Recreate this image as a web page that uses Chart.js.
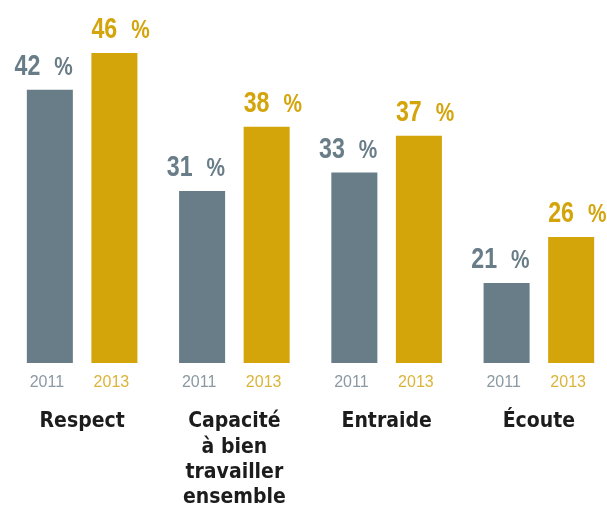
<!DOCTYPE html>
<html lang="fr">
<head>
  <meta charset="utf-8">
  <title>Respect, capacité, entraide, écoute</title>
  <style>
    * { box-sizing:border-box; margin:0; padding:0 }
    html, body { background:#fff; overflow:hidden; }
    #wrap { width:617px; height:506px; }
  </style>
</head>
<body>
  <div id="wrap"><canvas id="chart"></canvas></div>

  <script src="https://cdn.jsdelivr.net/npm/chart.js@4.4.1/dist/chart.umd.min.js"></script>
  <script>
    // data
    const categories = ['Respect', ['Capacité', 'à bien', 'travailler', 'ensemble'], 'Entraide', 'Écoute'];
    const years      = ['2011', '2013'];
    const values2011 = [42, 31, 33, 21];
    const values2013 = [46, 38, 37, 26];

    const GREY = '#697d88';
    const GOLD = '#d4a40b';
    const yearColors = ['#8a99a2', '#dcb43a'];
    const SQUEEZE = 0.8; // condensed look for the value labels

    // value labels above bars, year under each bar, category names below
    const barText = {
      id: 'barText',
      afterDatasetsDraw(chart) {
        const ctx = chart.ctx;
        const bottom = chart.chartArea.bottom;
        chart.data.datasets.forEach((ds, di) => {
          const meta = chart.getDatasetMeta(di);
          meta.data.forEach((bar, i) => {
            const num = String(ds.data[i]);
            const numFont = 'bold 29px "Liberation Sans", Arial, sans-serif';
            const pctFont = 'bold 26px "Liberation Sans", Arial, sans-serif';
            ctx.save();
            ctx.fillStyle = ds.backgroundColor;
            ctx.textBaseline = 'alphabetic';
            ctx.textAlign = 'left';
            ctx.font = numFont;
            const wNum = ctx.measureText(num).width * SQUEEZE;
            ctx.font = pctFont;
            const wPct = ctx.measureText('%').width * SQUEEZE;
            const gap = 14;
            const total = wNum + gap + wPct;
            const left = di === 0 ? bar.x + bar.width / 2 - total : bar.x - bar.width / 2;
            const y = bar.y - 15;

            ctx.save();
            ctx.translate(left, y);
            ctx.scale(SQUEEZE, 1);
            ctx.font = numFont;
            ctx.fillText(num, 0, 0);
            ctx.font = pctFont;
            ctx.fillText('%', (wNum + gap) / SQUEEZE, 0);
            ctx.restore();

            ctx.font = '16px "Liberation Sans", sans-serif';
            ctx.fillStyle = yearColors[di];
            ctx.textAlign = 'center';
            ctx.textBaseline = 'middle';
            ctx.fillText(years[di], bar.x - 3, bottom + 20);
            ctx.restore();
          });
        });

        // category names
        const xScale = chart.scales.x;
        ctx.save();
        ctx.font = 'bold 21px "DejaVu Sans Condensed", "DejaVu Sans", sans-serif';
        ctx.fillStyle = '#1c1c1c';
        ctx.textAlign = 'center';
        ctx.textBaseline = 'middle';
        chart.data.labels.forEach((lab, i) => {
          const lines = Array.isArray(lab) ? lab : [lab];
          const x = xScale.getPixelForValue(i);
          lines.forEach((ln, k) => ctx.fillText(ln, x, bottom + 59 + k * 25.3));
        });
        ctx.restore();
      }
    };

    new Chart(document.getElementById('chart'), {
      type: 'bar',
      data: {
        labels: categories,
        datasets: [
          { label: years[0], data: values2011, backgroundColor: GREY },
          { label: years[1], data: values2013, backgroundColor: GOLD }
        ]
      },
      options: {
        responsive: true,
        maintainAspectRatio: false,
        animation: false,
        layout: { padding: { left: 6, right: 2, top: 8, bottom: 143 } },
        categoryPercentage: 0.848,
        barPercentage: 0.713,
        plugins: { legend: { display: false }, tooltip: { enabled: false } },
        scales: {
          x: {
            grid: { display: false, drawTicks: false },
            border: { display: false },
            ticks: { display: false }
          },
          y: { display: false, min: 12.3, max: 50.9 }
        }
      },
      plugins: [barText]
    });
  </script>
</body>
</html>
